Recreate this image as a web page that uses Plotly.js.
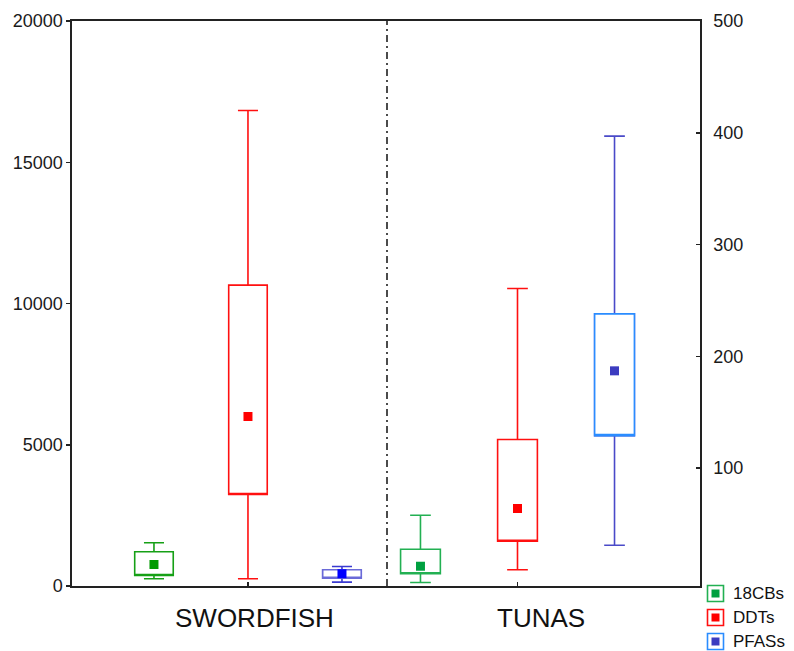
<!DOCTYPE html>
<html>
<head>
<meta charset="utf-8">
<script src="https://cdn.plot.ly/plotly-3.0.1.min.js"></script>
<style>html,body{margin:0;padding:0;background:#fff}#chart{width:794px;height:651px}</style>
</head>
<body>
<div id="chart"></div>
<script>
// ---------- data (values per species: [SWORDFISH, TUNAS]) ----------
const species = ['SWORDFISH', 'TUNAS'];
const series = ['18CBs', 'DDTs', 'PFASs'];

const cb18Low  = [255, 124];
const cb18Q1   = [372, 432];
const cb18Mean = [761, 700];
const cb18Q3   = [1210, 1303];
const cb18High = [1530, 2506];

const ddtLow  = [255, 573];
const ddtQ1   = [3239, 1586];
const ddtMean = [6000, 2743];
const ddtQ3   = [10650, 5186];
const ddtHigh = [16830, 10531];

// PFASs read on the right axis
const pfasLow  = [-2, 31];
const pfasQ1   = [1.5, 129];
const pfasMean = [5.5, 187];
const pfasQ3   = [9, 238];
const pfasHigh = [12, 397];

const leftTicks = [0, 5000, 10000, 15000, 20000];
const rightTicks = [100, 200, 300, 400, 500];

// ---------- styles ----------
const FONT = 'Arial, "Liberation Sans", sans-serif';
const L = 72, R = 700, T = 21, B = 586, DIV = 387;
const px = x => (x - L) / (R - L);
const py = y => (B - y) / (B - T);

const stats = {
  '18CBs': {low: cb18Low, q1: cb18Q1, mean: cb18Mean, q3: cb18Q3, high: cb18High},
  'DDTs':  {low: ddtLow,  q1: ddtQ1,  mean: ddtMean,  q3: ddtQ3,  high: ddtHigh},
  'PFASs': {low: pfasLow, q1: pfasQ1, mean: pfasMean, q3: pfasQ3, high: pfasHigh}
};
const styles = {
  '18CBs': [{line: '#16a016', box: '#16a016', mean: '#009a00'}, {line: '#22b052', box: '#22b052', mean: '#00a040'}],
  'DDTs':  [{line: '#ff1010', box: '#ff1010', mean: '#ff0000'}, {line: '#ff1010', box: '#ff1010', mean: '#ff0000'}],
  'PFASs': [{line: '#3a3ad0', box: '#6a6ad8', mean: '#0000ff'}, {line: '#4a4ac8', box: '#2a8cff', mean: '#3c3cc0'}]
};
const legendStyle = {
  '18CBs': {edge: '#22b052', fill: '#00a040'},
  'DDTs':  {edge: '#ff1010', fill: '#ff0000'},
  'PFASs': {edge: '#2a8cff', fill: '#3c3cc0'}
};

const traces = [];
species.forEach((sp, s) => {
  const xa = s === 0 ? 'x' : 'x2';
  series.forEach((name, k) => {
    const ya = name === 'PFASs' ? 'y2' : 'y';
    const st = stats[name];
    const sty = styles[name][s];
    // whiskers (+ box)
    traces.push({
      type: 'box', name: name + ' ' + sp, x: [name], xaxis: xa, yaxis: ya,
      q1: [st.q1[s]], median: [st.q1[s]], q3: [st.q3[s]],
      lowerfence: [st.low[s]], upperfence: [st.high[s]],
      boxpoints: false, width: 0.41, whiskerwidth: 0.52,
      fillcolor: 'rgba(0,0,0,0)', line: {color: sty.line, width: 1.6},
      showlegend: false, hoverinfo: 'skip'
    });
    if (sty.box !== sty.line) {
      // box outline in its own colour
      traces.push({
        type: 'box', name: name + ' ' + sp + ' box', x: [name], xaxis: xa, yaxis: ya,
        q1: [st.q1[s]], median: [st.q1[s]], q3: [st.q3[s]],
        lowerfence: [st.q1[s]], upperfence: [st.q3[s]],
        boxpoints: false, width: 0.41, whiskerwidth: 0,
        fillcolor: '#ffffff', line: {color: sty.box, width: 1.6},
        showlegend: false, hoverinfo: 'skip'
      });
    }
    // mean marker
    traces.push({
      type: 'scatter', mode: 'markers', name: name + ' mean ' + sp,
      x: [name], y: [st.mean[s]], xaxis: xa, yaxis: ya,
      marker: {symbol: 'square', size: 9, color: sty.mean, line: {width: 0}},
      showlegend: false, hoverinfo: 'skip'
    });
  });
});

const axisCommon = {
  type: 'category', categoryorder: 'array', categoryarray: series,
  tickvals: [series[1]], showticklabels: false, ticks: 'inside', ticklen: 4,
  tickcolor: '#222', tickwidth: 1.5, showline: true, mirror: true,
  linecolor: '#222', linewidth: 1.6, showgrid: false, zeroline: false,
  anchor: 'y', fixedrange: true
};

const shapes = [{
  type: 'line', xref: 'paper', yref: 'paper', x0: px(DIV), x1: px(DIV), y0: 0, y1: 1,
  line: {color: '#111', width: 1.5, dash: '7px,4px,2px,4px'}
}];
const annotations = [
  {text: species[0], xref: 'paper', yref: 'paper', x: px(254), y: py(618), xanchor: 'center', yanchor: 'middle', showarrow: false, font: {size: 26, family: FONT, color: '#111'}},
  {text: species[1], xref: 'paper', yref: 'paper', x: px(541), y: py(618), xanchor: 'center', yanchor: 'middle', showarrow: false, font: {size: 26, family: FONT, color: '#111'}}
];
series.forEach((name, k) => {
  const cy = 593.5 + k * 24;
  const ls = legendStyle[name];
  shapes.push({type: 'rect', xref: 'paper', yref: 'paper',
    x0: px(707.5), x1: px(723.5), y0: py(cy + 8), y1: py(cy - 8),
    line: {color: ls.edge, width: 1.6}, fillcolor: 'rgba(0,0,0,0)'});
  shapes.push({type: 'rect', xref: 'paper', yref: 'paper',
    x0: px(711.5), x1: px(719.5), y0: py(cy + 4), y1: py(cy - 4),
    line: {width: 0}, fillcolor: ls.fill});
  annotations.push({text: name, xref: 'paper', yref: 'paper', x: px(731), y: py(cy),
    xanchor: 'left', yanchor: 'middle', showarrow: false,
    font: {size: 17, family: FONT, color: '#111'}});
});

const layout = {
  width: 794, height: 651,
  margin: {l: L, r: 794 - R, t: T, b: 651 - B, pad: 0},
  paper_bgcolor: '#ffffff', plot_bgcolor: '#ffffff',
  showlegend: false, boxmode: 'overlay',
  font: {family: FONT, size: 18, color: '#1a1a1a'},
  xaxis: Object.assign({}, axisCommon, {domain: [0, px(DIV)], range: [-0.872, 2.479]}),
  xaxis2: Object.assign({}, axisCommon, {domain: [px(DIV), 1], range: [-0.345, 2.881]}),
  yaxis: {
    range: [0, 20000], tickvals: leftTicks, tickformat: 'd', ticks: 'outside', ticklen: 4,
    tickcolor: '#222', tickwidth: 1.5, showline: true, linecolor: '#222', linewidth: 1.6,
    showgrid: false, zeroline: false, anchor: 'x', side: 'left',
    tickfont: {size: 18, family: FONT, color: '#1a1a1a'}, fixedrange: true
  },
  yaxis2: {
    range: [-5.5, 500], tickvals: rightTicks, tickformat: 'd', ticks: 'inside', ticklen: 4,
    tickcolor: '#222', tickwidth: 1.5, showline: true, linecolor: '#222', linewidth: 1.6,
    showgrid: false, zeroline: false, overlaying: 'y', anchor: 'x2', side: 'right',
    tickfont: {size: 18, family: FONT, color: '#1a1a1a'}, ticklabelstandoff: 8, fixedrange: true
  },
  shapes: shapes,
  annotations: annotations
};

Plotly.newPlot('chart', traces, layout, {displayModeBar: false, staticPlot: true});
</script>
</body>
</html>
